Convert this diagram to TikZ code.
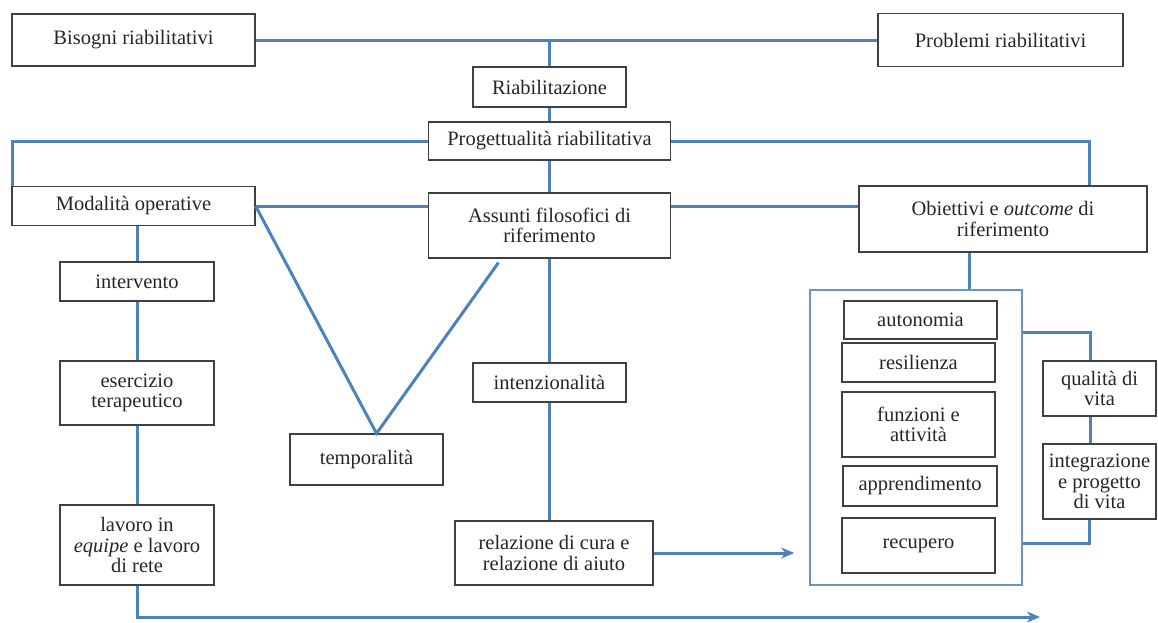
\documentclass[tikz,border=0pt]{standalone}
\usepackage{fontspec}
\setmainfont{Liberation Serif}
\usetikzlibrary{arrows.meta}
\definecolor{linkblue}{RGB}{79,129,189}

\begin{document}
\begin{tikzpicture}[x=1pt, y=-1pt,
    box/.style={draw=black!75, line width=1.2pt, inner sep=0pt, align=center,
                font=\fontsize{20.5}{20.5}\selectfont, text=black!85},
    small/.style={box, minimum width=153pt, minimum height=39pt},
    frame/.style={draw=linkblue!85, line width=1.6pt, inner sep=0pt},
    link/.style={draw=linkblue, line width=3pt},
    arr/.style={link, -{Stealth[length=13pt, width=11pt, inset=4pt]}}
]
\useasboundingbox (0,0) rectangle (1158,622);

\node[box, minimum width=243pt, minimum height=52pt] (bis)  at (133.5,40) {Bisogni riabilitativi};
\node[box, minimum width=245pt, minimum height=53pt] (prob) at (1000.5,40) {Problemi riabilitativi};
\node[small, minimum height=40pt] (riab) at (549.5,87) {Riabilitazione};
\node[box, minimum width=242pt, minimum height=38pt] (prog) at (549.5,141) {Progettualità riabilitativa};

\node[box, minimum width=243pt, minimum height=39pt] (mod) at (133.5,206) {Modalità operative};
\node[box, minimum width=242pt, minimum height=65pt] (ass) at (549.5,225.5) {Assunti filosofici di\\riferimento};
\node[box, minimum width=288pt, minimum height=66pt] (obi) at (1003,219) {Obiettivi e \emph{outcome} di\\riferimento};

\node[small, minimum width=154pt] (interv) at (137,281.5) {intervento};
\node[box, minimum width=154pt, minimum height=64pt] (eserc)  at (137,393) {esercizio\\terapeutico};
\node[box, minimum width=154pt, minimum height=80pt] (lav)    at (137,545) {lavoro in\\\emph{equipe} e lavoro\\di rete};
\node[small, minimum height=51pt] (temp)   at (366.5,459.5) {temporalità};
\node[small] (intenz) at (549.5,382.5) {intenzionalità};
\node[box, minimum width=198pt, minimum height=64pt] (rel) at (554,553) {relazione di cura e\\relazione di aiuto};

\node[frame, minimum width=212pt, minimum height=295pt] (esiti) at (916,437.5) {};
\node[small, minimum height=38pt] (auto)  at (920.5,320) {autonomia};
\node[small] (resil) at (918.5,362.5) {resilienza};
\node[small, minimum height=65pt] (funz)  at (918.5,424.5) {funzioni e\\attività};
\node[small, minimum width=154pt, minimum height=40pt] (appr) at (920,486) {apprendimento};
\node[small, minimum height=55pt] (recup) at (918.5,545.5) {recupero};
\node[box, minimum width=113pt, minimum height=55pt] (qual)   at (1099.5,388.5) {qualità di\\vita};
\node[box, minimum width=113pt, minimum height=75pt] (integr) at (1099.5,481.5) {integrazione\\e progetto\\di vita};

\coordinate (fine) at (1040,617);

% top row
\draw[link] (bis) -- (prob);
\draw[link] (riab) -- (riab |- bis.east);
\draw[link] (riab) -- (prog);
\draw[link] (prog.west) -| ([xshift=1.5pt]mod.north west);
\draw[link] (prog.east) -| ([xshift=-58pt]obi.north east);
\draw[link] (prog) -- (ass);

% middle row
\draw[link] (mod.east) -- (mod.east -| ass.west);
\draw[link] (ass.east |- mod.east) -- (obi.west |- mod.east);
\draw[link] (mod.east) -- ([xshift=10pt]temp.north) -- ([xshift=-51pt,yshift=-4pt]ass.south);

% left column
\draw[link] (interv) -- (interv |- mod.south);
\draw[link] (interv) -- (eserc);
\draw[link] (eserc) -- (lav);
\draw[arr] (lav) |- (fine);

% centre column
\draw[link] (ass) -- (intenz);
\draw[link] (intenz) -- (intenz |- rel.north);
\draw[arr] (rel.east) -- ([xshift=-15pt]rel.east -| esiti.west);

% right side
\draw[link] ([xshift=-34pt]obi.south) -- ([xshift=-34pt]obi.south |- esiti.north);
\draw[link] ([yshift=105.5pt]esiti.east) -| ([xshift=-9.5pt]qual.north);
\draw[link] ([xshift=-9.5pt]qual.south) -- ([xshift=-9.5pt]integr.north);
\draw[link] ([xshift=-10pt]integr.south) |- ([yshift=-105.5pt]esiti.east);
\end{tikzpicture}
\end{document}
